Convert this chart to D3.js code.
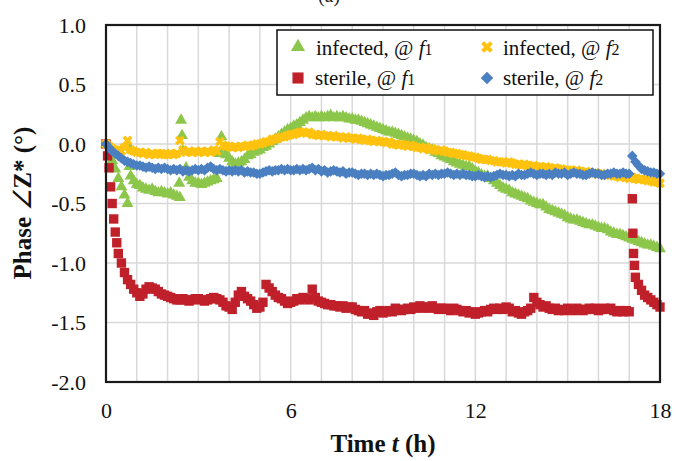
<!DOCTYPE html>
<html>
<head>
<meta charset="utf-8">
<script src="https://cdn.jsdelivr.net/npm/d3@7"></script>
<style>
body { margin: 0; background: #fff; }
svg { display: block; }
</style>
</head>
<body>
<svg id="chart" width="676" height="461"></svg>
<script>
// Data: phase (deg), one reading every 0.1 h from t = 0 to 18 h
var sampleStep = 0.1;

var infectedF1 = [
  0, -0.07, -0.14, -0.21, -0.29, -0.36, -0.43, -0.5, -0.27, -0.31,
  -0.34, -0.35, -0.37, -0.38, -0.39, -0.38, -0.40, -0.41, -0.40, -0.41,
  -0.42, -0.41, -0.43, -0.44, -0.45, -0.06, -0.20, -0.28, -0.31, -0.33,
  -0.33, -0.34, -0.33, -0.32, -0.31, -0.30, -0.29, -0.08, -0.04, -0.09,
  -0.12, -0.15, -0.17, -0.16, -0.15, -0.13, -0.10, -0.09, -0.07, -0.06,
  -0.05, -0.03, -0.02, 0.0, 0.02, 0.04, 0.06, 0.08, 0.10, 0.12,
  0.13, 0.15, 0.16, 0.18, 0.20, 0.22, 0.23, 0.22, 0.23, 0.22,
  0.23, 0.22, 0.23, 0.24, 0.22, 0.23, 0.22, 0.23, 0.22, 0.21,
  0.21, 0.20, 0.20, 0.19, 0.18, 0.17, 0.16, 0.15, 0.14, 0.13,
  0.12, 0.11, 0.10, 0.10, 0.09, 0.08, 0.07, 0.06, 0.05, 0.04,
  0.03, 0.02, 0.0, -0.01, -0.03, -0.04, -0.05, -0.07, -0.08, -0.10,
  -0.11, -0.12, -0.13, -0.15, -0.16, -0.17, -0.18, -0.19, -0.19, -0.21,
  -0.23, -0.24, -0.26, -0.27, -0.27, -0.29, -0.31, -0.33, -0.35, -0.37,
  -0.38, -0.39, -0.41, -0.42, -0.43, -0.44, -0.45, -0.46, -0.48, -0.49,
  -0.50, -0.51, -0.51, -0.53, -0.55, -0.56, -0.57, -0.58, -0.59, -0.60,
  -0.62, -0.63, -0.64, -0.64, -0.65, -0.66, -0.67, -0.68, -0.68, -0.69,
  -0.70, -0.71, -0.71, -0.72, -0.74, -0.75, -0.76, -0.76, -0.77, -0.78,
  -0.79, -0.80, -0.81, -0.82, -0.83, -0.84, -0.85, -0.85, -0.86, -0.87,
  -0.88
];
// readings between the regular samples: [t, phase]
var infectedF1Extra = [[0.72, -0.01], [0.76, -0.19], [2.38, -0.33], [2.44, 0.2], [2.47, 0.07], [3.75, 0.06]];

var sterileF1 = [
  0, -0.2, -0.5, -0.74, -0.92, -1.0, -1.08, -1.14, -1.18, -1.22,
  -1.25, -1.28, -1.26, -1.22, -1.20, -1.21, -1.22, -1.24, -1.26, -1.27,
  -1.28, -1.29, -1.30, -1.31, -1.31, -1.30, -1.31, -1.32, -1.31, -1.30,
  -1.30, -1.31, -1.32, -1.31, -1.30, -1.29, -1.30, -1.31, -1.33, -1.36,
  -1.37, -1.39, -1.33, -1.27, -1.24, -1.28, -1.30, -1.32, -1.35, -1.38,
  -1.37, -1.33, -1.18, -1.21, -1.24, -1.27, -1.29, -1.30, -1.32, -1.34,
  -1.33, -1.32, -1.30, -1.31, -1.29, -1.30, -1.31, -1.22, -1.29, -1.32,
  -1.33, -1.34, -1.35, -1.35, -1.36, -1.36, -1.37, -1.36, -1.38, -1.37,
  -1.37, -1.39, -1.40, -1.41, -1.40, -1.43, -1.42, -1.44, -1.41, -1.40,
  -1.42, -1.41, -1.40, -1.41, -1.38, -1.39, -1.40, -1.39, -1.38, -1.39,
  -1.37, -1.38, -1.36, -1.37, -1.38, -1.37, -1.36, -1.38, -1.39, -1.38,
  -1.38, -1.39, -1.40, -1.38, -1.39, -1.40, -1.41, -1.40, -1.42, -1.41,
  -1.43, -1.42, -1.41, -1.40, -1.41, -1.39, -1.38, -1.39, -1.38, -1.39,
  -1.37, -1.38, -1.41, -1.40, -1.42, -1.43, -1.41, -1.40, -1.38, -1.29,
  -1.33, -1.35, -1.37, -1.36, -1.38, -1.39, -1.38, -1.40, -1.39, -1.40,
  -1.38, -1.39, -1.40, -1.38, -1.39, -1.40, -1.39, -1.38, -1.39, -1.38,
  -1.40, -1.39, -1.38, -1.39, -1.38, -1.40, -1.41, -1.40, -1.41, -1.40,
  -1.41, -0.46, -1.12, -1.18, -1.23, -1.27, -1.29, -1.31, -1.33, -1.35,
  -1.37
];
var sterileF1Extra = [[0.05, -0.1], [0.15, -0.36], [0.25, -0.63], [0.35, -0.83],
  [17.12, -0.75], [17.14, -0.92], [17.17, -1.02]];

var infectedF2 = [
  0, -0.02, -0.04, -0.05, -0.05, -0.06, -0.03, 0.03, -0.05, -0.06,
  -0.07, -0.07, -0.08, -0.07, -0.09, -0.08, -0.09, -0.08, -0.08, -0.09,
  -0.09, -0.08, -0.09, -0.08, 0.03, -0.05, -0.07, -0.06, -0.07, -0.06,
  -0.07, -0.06, -0.07, -0.06, -0.07, -0.05, -0.06, 0.02, -0.01, -0.02,
  -0.02, -0.03, -0.02, -0.03, -0.02, -0.02, -0.01, -0.02, -0.01, 0.0,
  0.0, 0.01, 0.02, 0.02, 0.04, 0.04, 0.05, 0.06, 0.06, 0.07,
  0.08, 0.08, 0.09, 0.10, 0.10, 0.09, 0.10, 0.08, 0.08, 0.07,
  0.08, 0.07, 0.07, 0.06, 0.07, 0.06, 0.06, 0.05, 0.06, 0.05,
  0.05, 0.04, 0.05, 0.04, 0.03, 0.04, 0.03, 0.02, 0.03, 0.02,
  0.02, 0.01, 0.02, 0.0, 0.0, -0.01, 0.0, -0.01, -0.02, -0.01,
  -0.02, -0.03, -0.03, -0.04, -0.03, -0.05, -0.04, -0.05, -0.06, -0.05,
  -0.06, -0.07, -0.07, -0.08, -0.08, -0.09, -0.09, -0.10, -0.10, -0.11,
  -0.11, -0.12, -0.13, -0.13, -0.13, -0.14, -0.14, -0.15, -0.15, -0.15,
  -0.16, -0.15, -0.16, -0.17, -0.17, -0.18, -0.17, -0.18, -0.19, -0.18,
  -0.19, -0.19, -0.20, -0.19, -0.20, -0.21, -0.20, -0.21, -0.21, -0.22,
  -0.22, -0.22, -0.23, -0.22, -0.23, -0.24, -0.23, -0.24, -0.25, -0.24,
  -0.25, -0.25, -0.26, -0.26, -0.26, -0.27, -0.27, -0.28, -0.27, -0.28,
  -0.29, -0.28, -0.29, -0.30, -0.29, -0.30, -0.31, -0.31, -0.32, -0.32,
  -0.33
];

var sterileF2 = [
  0, -0.03, -0.06, -0.08, -0.10, -0.12, -0.14, -0.15, -0.16, -0.17,
  -0.18, -0.18, -0.19, -0.20, -0.19, -0.20, -0.21, -0.20, -0.21, -0.20,
  -0.21, -0.22, -0.21, -0.22, -0.21, -0.23, -0.22, -0.23, -0.22, -0.21,
  -0.22, -0.21, -0.22, -0.20, -0.19, -0.21, -0.22, -0.21, -0.22, -0.23,
  -0.22, -0.23, -0.22, -0.23, -0.22, -0.24, -0.23, -0.24, -0.24, -0.25,
  -0.25, -0.24, -0.23, -0.22, -0.23, -0.22, -0.22, -0.21, -0.22, -0.21,
  -0.22, -0.22, -0.21, -0.22, -0.21, -0.22, -0.21, -0.20, -0.22, -0.21,
  -0.23, -0.22, -0.24, -0.23, -0.22, -0.23, -0.24, -0.23, -0.25, -0.24,
  -0.24, -0.25, -0.26, -0.25, -0.25, -0.26, -0.25, -0.26, -0.25, -0.26,
  -0.27, -0.26, -0.26, -0.25, -0.24, -0.26, -0.27, -0.26, -0.26, -0.25,
  -0.25, -0.26, -0.27, -0.26, -0.27, -0.25, -0.26, -0.25, -0.26, -0.25,
  -0.25, -0.24, -0.25, -0.26, -0.25, -0.26, -0.25, -0.26, -0.26, -0.27,
  -0.27, -0.26, -0.27, -0.28, -0.27, -0.28, -0.27, -0.26, -0.25, -0.26,
  -0.26, -0.27, -0.26, -0.27, -0.25, -0.26, -0.26, -0.25, -0.24, -0.25,
  -0.26, -0.25, -0.25, -0.26, -0.25, -0.26, -0.24, -0.25, -0.25, -0.24,
  -0.26, -0.25, -0.24, -0.25, -0.25, -0.26, -0.26, -0.25, -0.24, -0.25,
  -0.25, -0.26, -0.26, -0.25, -0.25, -0.24, -0.25, -0.25, -0.24, -0.25,
  -0.25, -0.10, -0.15, -0.18, -0.21, -0.22, -0.23, -0.24, -0.24, -0.25,
  -0.25
];

var xTickLabels = [0, 6, 12, 18];
var yTickLabels = [1.0, 0.5, 0.0, -0.5, -1.0, -1.5, -2.0];

// regular samples + extra readings -> [t, v]
function points(values, extra) {
  var pts = values.map(function(v, i) { return [i * sampleStep, v]; });
  return pts.concat(extra || []);
}

// Layout
var svg = d3.select("#chart");
var pLeft = 106, pRight = 660, pTop = 25, pBottom = 382;
var x = d3.scaleLinear().domain([0, 18]).range([pLeft, pRight]);
var y = d3.scaleLinear().domain([-2, 1]).range([pBottom, pTop]);
var font = "'Liberation Serif', 'Times New Roman', serif";

// (a) label, cut by the top edge
svg.append("text").attr("x", 329).attr("y", 2).attr("text-anchor", "middle")
  .attr("font-family", font).attr("font-size", 20).attr("fill", "#222").text("(a)");

// grid
var grid = svg.append("g");
grid.selectAll(".vg").data(d3.range(1, 18)).enter().append("line")
  .attr("x1", function(d) { return x(d); }).attr("x2", function(d) { return x(d); })
  .attr("y1", pTop).attr("y2", pBottom)
  .attr("stroke", "#d9d9d9").attr("stroke-width", 1.5);
grid.selectAll(".hg").data([0.5, 0, -0.5, -1, -1.5]).enter().append("line")
  .attr("x1", pLeft).attr("x2", pRight)
  .attr("y1", function(d) { return y(d); }).attr("y2", function(d) { return y(d); })
  .attr("stroke", "#d9d9d9").attr("stroke-width", 1.5);

// axes (labels only, frame drawn separately)
var xAxis = d3.axisBottom(x).tickValues(xTickLabels).tickSize(0).tickPadding(20)
  .tickFormat(d3.format("d"));
svg.append("g").attr("transform", "translate(0," + pBottom + ")").call(xAxis)
  .call(function(g) { g.select(".domain").remove(); })
  .selectAll("text").attr("font-family", font).attr("font-size", 22).attr("fill", "#111");

var yAxis = d3.axisLeft(y).tickValues(yTickLabels).tickSize(0).tickPadding(20)
  .tickFormat(function(d) { return d3.format(".1f")(d).replace("\u2212", "-"); });
svg.append("g").attr("transform", "translate(" + pLeft + ",0)").call(yAxis)
  .call(function(g) { g.select(".domain").remove(); })
  .selectAll("text").attr("font-family", font).attr("font-size", 22).attr("fill", "#111");

// series
var symGen = d3.symbol();
var series = [
  { data: points(infectedF1, infectedF1Extra), type: d3.symbolTriangle, size: 62, color: "#8cc64a" },
  { data: points(sterileF1, sterileF1Extra), type: d3.symbolSquare, size: 88, color: "#c0202a" },
  { data: points(infectedF2), type: d3.symbolCross, size: 60, color: "#ffc20e", rot: 45 },
  { data: points(sterileF2), type: d3.symbolSquare, size: 56, color: "#4a7fc1", rot: 45 }
];
series.forEach(function(s) {
  svg.append("g").selectAll("path").data(s.data).enter().append("path")
    .attr("d", symGen.type(s.type).size(s.size)())
    .attr("transform", function(d) {
      return "translate(" + x(d[0]) + "," + y(d[1]) + ")" + (s.rot ? " rotate(" + s.rot + ")" : "");
    })
    .attr("fill", s.color);
});

// frame
svg.append("rect").attr("x", pLeft).attr("y", pTop).attr("width", pRight - pLeft).attr("height", pBottom - pTop)
  .attr("fill", "none").attr("stroke", "#1a1a1a").attr("stroke-width", 2.2);

// legend
var lg = svg.append("g");
lg.append("rect").attr("x", 277).attr("y", 30).attr("width", 376).attr("height", 65)
  .attr("fill", "#fff").attr("stroke", "#111").attr("stroke-width", 1.5);
var legendItems = [
  { s: series[0], label: "infected, @ ", sub: "1", mx: 298, my: 47, tx: 316, ty: 55 },
  { s: series[2], label: "infected, @ ", sub: "2", mx: 487, my: 47, tx: 503, ty: 55 },
  { s: series[1], label: "sterile, @ ", sub: "1", mx: 298, my: 78, tx: 315, ty: 85 },
  { s: series[3], label: "sterile, @ ", sub: "2", mx: 487, my: 78, tx: 503, ty: 85 }
];
legendItems.forEach(function(it) {
  lg.append("path").attr("d", symGen.type(it.s.type).size(it.s.size * 1.4)())
    .attr("transform", "translate(" + it.mx + "," + it.my + ")" + (it.s.rot ? " rotate(45)" : ""))
    .attr("fill", it.s.color);
  var t = lg.append("text").attr("x", it.tx).attr("y", it.ty)
    .attr("font-family", font).attr("font-size", 21).attr("fill", "#111");
  t.append("tspan").text(it.label);
  t.append("tspan").attr("font-style", "italic").text("f");
  t.append("tspan").attr("font-size", 16).text(it.sub);
});

// axis titles
var xt = svg.append("text").attr("x", 383).attr("y", 452).attr("text-anchor", "middle")
  .attr("font-family", font).attr("font-size", 25).attr("font-weight", "bold").attr("fill", "#111");
xt.append("tspan").text("Time ");
xt.append("tspan").attr("font-style", "italic").text("t");
xt.append("tspan").text(" (h)");

var yt = svg.append("text").attr("transform", "translate(31,203) rotate(-90)").attr("text-anchor", "middle")
  .attr("font-family", font).attr("font-size", 25).attr("font-weight", "bold").attr("fill", "#111");
yt.append("tspan").text("Phase ");
yt.append("tspan").attr("font-weight", "normal").attr("font-style", "italic").text("\u2220");
yt.append("tspan").text("Z* (\u00b0)");
</script>
</body>
</html>
